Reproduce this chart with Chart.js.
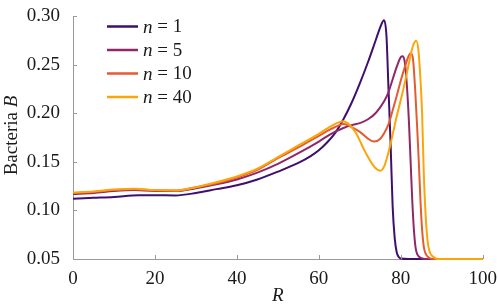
<!DOCTYPE html>
<html>
<head>
<meta charset="utf-8">
<script src="https://cdn.jsdelivr.net/npm/chart.js@4.4.1/dist/chart.umd.min.js"></script>
<style>
html,body{margin:0;padding:0;background:#fff;}
#wrap{width:498px;height:307px;position:relative;}
</style>
</head>
<body>
<div id="wrap"><canvas id="c" width="498" height="307"></canvas></div>
<script>
// ---- data ----
const seriesLabels = ["1", "5", "10", "40"];
const seriesColors = ["#3f0f6e", "#902868", "#e45a31", "#fca50a"];

const rN1 = [0, 5, 10, 16, 20, 25, 30, 35, 40, 45, 50, 55, 58, 60, 62, 64, 66, 68, 70, 72, 74, 75, 75.9, 76.5, 77, 77.5, 78, 78.5, 79, 79.5, 80, 82, 100];
const bN1 = [0.112, 0.113, 0.114, 0.1157, 0.1158, 0.1155, 0.118, 0.122, 0.126, 0.132, 0.140, 0.149, 0.156, 0.162, 0.170, 0.180, 0.194, 0.211, 0.231, 0.253, 0.277, 0.289, 0.296, 0.28, 0.225, 0.17, 0.105, 0.072, 0.057, 0.052, 0.0505, 0.05, 0.05];

const rN5 = [0, 5, 10, 15, 20, 25, 30, 35, 40, 45, 50, 55, 60, 63, 66, 68, 70, 72, 74, 76, 77, 78, 79, 80, 80.5, 81, 81.5, 82, 82.4, 82.8, 83.2, 83.6, 84, 85, 86, 100];
const bN5 = [0.117, 0.118, 0.120, 0.121, 0.120, 0.120, 0.123, 0.127, 0.132, 0.139, 0.148, 0.159, 0.171, 0.179, 0.185, 0.188, 0.190, 0.194, 0.201, 0.213, 0.222, 0.235, 0.248, 0.258, 0.259, 0.252, 0.228, 0.19, 0.15, 0.11, 0.08, 0.062, 0.055, 0.051, 0.05, 0.05];

const rN10 = [0, 5, 10, 15, 20, 25, 30, 35, 40, 45, 50, 55, 60, 63, 65, 66, 67, 68, 70, 72, 73.5, 75, 76, 77, 78, 79, 80, 81, 82, 82.5, 83, 83.5, 84, 84.4, 84.8, 85.2, 85.6, 86, 87, 88, 100];
const bN10 = [0.118, 0.119, 0.121, 0.122, 0.1205, 0.1205, 0.124, 0.128, 0.134, 0.142, 0.154, 0.165, 0.177, 0.184, 0.188, 0.189, 0.188, 0.186, 0.181, 0.174, 0.171, 0.174, 0.180, 0.189, 0.203, 0.218, 0.234, 0.248, 0.260, 0.262, 0.255, 0.225, 0.185, 0.15, 0.11, 0.08, 0.063, 0.056, 0.051, 0.05, 0.05];

const rN40 = [0, 5, 10, 15, 20, 25, 30, 35, 40, 45, 50, 55, 60, 63, 65, 66, 67, 68, 69, 70, 71, 72, 73, 74, 75, 76, 77, 78, 79, 80, 81, 82, 83, 83.8, 84.3, 84.8, 85.2, 85.6, 86, 86.5, 87, 88, 89, 100];
const bN40 = [0.1185, 0.1195, 0.1215, 0.1225, 0.121, 0.1205, 0.124, 0.129, 0.135, 0.143, 0.155, 0.167, 0.179, 0.187, 0.191, 0.192, 0.190, 0.186, 0.180, 0.172, 0.163, 0.155, 0.148, 0.143, 0.141, 0.146, 0.160, 0.178, 0.197, 0.214, 0.232, 0.252, 0.270, 0.275, 0.265, 0.235, 0.20, 0.14, 0.10, 0.07, 0.058, 0.052, 0.05, 0.05];

const xTicks = [0, 20, 40, 60, 80, 100];
const yTicks = [0.05, 0.10, 0.15, 0.20, 0.25, 0.30];

const rSets = [rN1, rN5, rN10, rN40];
const bSets = [bN1, bN5, bN10, bN40];

const SERIF = "'Liberation Serif', serif";
const FS = 19;

const datasets = seriesLabels.map((lab, i) => ({
  label: lab,
  data: rSets[i].map((r, k) => ({x: r, y: bSets[i][k]})),
  borderColor: seriesColors[i],
  backgroundColor: seriesColors[i],
  borderWidth: 2,
  pointRadius: 0,
  cubicInterpolationMode: 'monotone',
  fill: false,
  clip: 3,
  order: seriesLabels.length - i
}));

const inwardTicks = {
  id: 'inwardTicks',
  afterDraw(chart) {
    const ctx = chart.ctx;
    const xs = chart.scales.x, ys = chart.scales.y;
    const a = chart.chartArea;
    ctx.save();
    ctx.strokeStyle = '#9a9a9a';
    ctx.lineWidth = 1;
    ctx.beginPath();
    xTicks.forEach(v => {
      const px = Math.round(xs.getPixelForValue(v)) + 0.5;
      ctx.moveTo(px, a.bottom); ctx.lineTo(px, a.bottom - 4);
    });
    yTicks.forEach(v => {
      const py = Math.round(ys.getPixelForValue(v)) + 0.5;
      ctx.moveTo(a.left, py); ctx.lineTo(a.left + 4, py);
    });
    ctx.stroke();

    // y-axis title: "Bacteria B" with italic B
    ctx.fillStyle = '#1a1a1a';
    ctx.translate(17, 135.5);
    ctx.rotate(-Math.PI / 2);
    ctx.textBaseline = 'alphabetic';
    const f1 = "19px " + SERIF, f2 = "italic 19px " + SERIF;
    ctx.font = f1; const w1 = ctx.measureText("Bacteria ").width;
    ctx.font = f2; const w2 = ctx.measureText("B").width;
    let sx = -(w1 + w2) / 2;
    ctx.font = f1; ctx.textAlign = 'left'; ctx.fillText("Bacteria ", sx, 0);
    ctx.font = f2; ctx.fillText("B", sx + w1, 0);
    ctx.restore();

    // legend
    ctx.save();
    chart.data.datasets.forEach((ds, i) => {
      const y = 26.5 + i * 23.5;
      ctx.strokeStyle = ds.borderColor;
      ctx.lineWidth = 2.5;
      ctx.beginPath(); ctx.moveTo(107, y); ctx.lineTo(138, y); ctx.stroke();
      ctx.fillStyle = '#1a1a1a';
      ctx.textBaseline = 'middle';
      ctx.textAlign = 'left';
      ctx.font = "italic " + FS + "px " + SERIF;
      ctx.fillText("n", 143, y + 1);
      const wn = ctx.measureText("n").width;
      ctx.font = FS + "px " + SERIF;
      ctx.fillText(" = " + ds.label, 143 + wn, y + 1);
    });
    ctx.restore();
  }
};

function build() {
  new Chart(document.getElementById('c'), {
    type: 'line',
    data: { datasets },
    options: {
      responsive: false,
      animation: false,
      events: [],
      layout: { padding: { top: 9, right: 14, left: 0, bottom: 0 } },
      plugins: { legend: { display: false }, tooltip: { enabled: false } },
      scales: {
        x: {
          type: 'linear', min: 0, max: 100,
          afterBuildTicks: s => { s.ticks = xTicks.map(v => ({value: v})); },
          afterFit: s => { s.height = 48; },
          grid: { display: false },
          border: { display: true, color: '#9a9a9a', width: 1 },
          ticks: { color: '#1a1a1a', font: { family: SERIF, size: FS }, padding: 1, maxRotation: 0 },
          title: { display: true, text: 'R', color: '#1a1a1a', font: { family: SERIF, size: FS, style: 'italic' }, padding: { top: 0, bottom: 0 } }
        },
        y: {
          type: 'linear', min: 0.05, max: 0.30,
          afterBuildTicks: s => { s.ticks = yTicks.map(v => ({value: v})); },
          afterFit: s => { s.width = 73; },
          grid: { display: false },
          border: { display: true, color: '#9a9a9a', width: 1 },
          ticks: { color: '#1a1a1a', font: { family: SERIF, size: FS }, padding: 5, callback: v => Number(v).toFixed(2) }
        }
      }
    },
    plugins: [inwardTicks]
  });
}

const fontLoads = [
  FS + "px 'Liberation Serif'", "italic " + FS + "px 'Liberation Serif'"
].map(f => document.fonts.load(f).catch(() => null));
Promise.all(fontLoads).then(build, build);
</script>
</body>
</html>
